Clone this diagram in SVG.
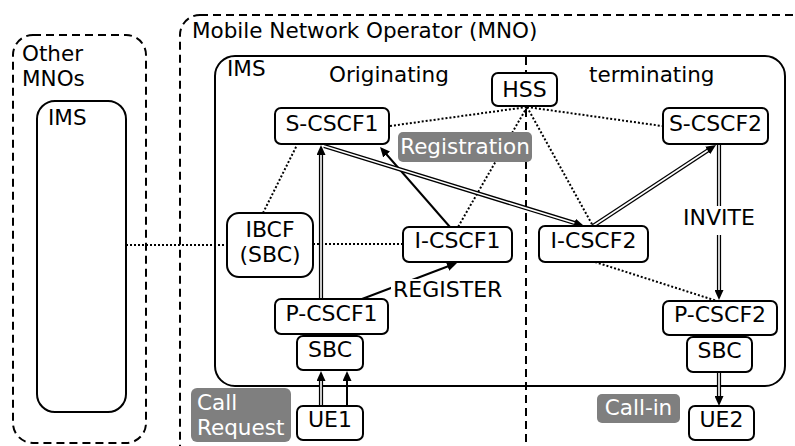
<svg xmlns="http://www.w3.org/2000/svg" width="795" height="446" viewBox="0 0 795 446">
  <style>
    text { font-family: "DejaVu Sans", Verdana, sans-serif; font-size: 21.5px; fill: #000; }
    .mid { text-anchor: middle; }
    .lbl { font-size: 22px; }
    .node { fill: #fff; stroke: #000; stroke-width: 2; }
    .zone { fill: none; stroke: #000; stroke-width: 2; }
    .dash { fill: none; stroke: #000; stroke-width: 2; stroke-dasharray: 8 5; }
    .dot { fill: none; stroke: #000; stroke-width: 2; stroke-dasharray: 2 2; }
    .arrow { fill: none; stroke: #000; stroke-width: 2; marker-end: url(#head); }
    .dbl { fill: none; stroke: #000; stroke-width: 4.2; marker-end: url(#head); }
    .dbl-in { fill: none; stroke: #fff; stroke-width: 1.6; }
    .tag { fill: #7f7f7f; }
    .tag-text { fill: #fff; }
  </style>
  <defs>
    <marker id="head" viewBox="0 0 10 9" refX="2" refY="4.5" markerWidth="10" markerHeight="9" markerUnits="userSpaceOnUse" orient="auto">
      <path d="M0,0 L10,4.5 L0,9 z" fill="#000"/>
    </marker>
  </defs>

  <rect width="795" height="446" fill="#fff"/>

  <!-- operator domains -->
  <g id="other-mnos">
    <rect class="dash" x="13" y="35" width="133" height="408" rx="20"/>
    <text x="22" y="61">Other</text>
    <text x="22" y="86">MNOs</text>
    <rect class="zone" x="37" y="101" width="89" height="311" rx="18"/>
    <text x="48" y="125">IMS</text>
  </g>
  <g id="mno">
    <rect class="dash" x="180" y="15" width="640" height="460" rx="20"/>
    <text x="192" y="38">Mobile Network Operator (MNO)</text>
  </g>
  <g id="ims">
    <rect class="zone" x="215" y="56" width="570" height="330" rx="20"/>
    <text x="227" y="76">IMS</text>
    <text x="329" y="82">Originating</text>
    <text x="589" y="82">terminating</text>
  </g>
  <line class="dash" x1="526" y1="57" x2="526" y2="446"/>

  <!-- connectors -->
  <g id="connectors">
    <!-- signalling / interface links -->
    <line class="dot" x1="126" y1="245" x2="227" y2="245"/>
    <line class="dot" x1="313" y1="244" x2="403" y2="244"/>
    <line class="dot" x1="263" y1="213" x2="297" y2="145"/>
    <line class="dot" x1="390" y1="126" x2="527" y2="107"/>
    <line class="dot" x1="527" y1="107" x2="662" y2="126"/>
    <line class="dot" x1="527" y1="107" x2="458" y2="227"/>
    <line class="dot" x1="527" y1="107" x2="593" y2="226"/>
    <line class="dot" x1="595" y1="262" x2="717" y2="301"/>

    <!-- registration path -->
    <line class="arrow" x1="347" y1="406" x2="347" y2="379"/>
    <line class="arrow" x1="362" y1="299" x2="449.5" y2="265.8"/>
    <line class="arrow" x1="450" y1="227" x2="385.3" y2="153"/>

    <!-- call path (double lines) -->
    <line class="dbl" x1="321" y1="406" x2="321" y2="379"/>
    <line class="dbl-in" x1="321" y1="406" x2="321" y2="381"/>
    <line class="dbl" x1="321" y1="299" x2="321" y2="153"/>
    <line class="dbl-in" x1="321" y1="299" x2="321" y2="155"/>
    <line class="dbl" x1="324" y1="146" x2="576.4" y2="223.6"/>
    <line class="dbl-in" x1="324" y1="146" x2="574.4" y2="223.1"/>
    <line class="dbl" x1="593" y1="226" x2="709.3" y2="149.4"/>
    <line class="dbl-in" x1="593" y1="226" x2="707.7" y2="150.5"/>
    <line class="dbl" x1="719" y1="144" x2="719" y2="292"/>
    <line class="dbl-in" x1="719" y1="144" x2="719" y2="290"/>
    <line class="dbl" x1="719" y1="372" x2="719" y2="398"/>
    <line class="dbl-in" x1="719" y1="372" x2="719" y2="396"/>

    <!-- link labels -->
    <rect x="391" y="279" width="116" height="22" fill="#fff"/>
    <text class="lbl" x="393" y="297">REGISTER</text>
    <rect x="680" y="206" width="84" height="29" fill="#fff"/>
    <text class="lbl" x="683" y="225">INVITE</text>
  </g>

  <!-- nodes -->
  <g id="hss">
    <rect class="node" x="492" y="73" width="65" height="33" rx="6"/>
    <text class="mid lbl" x="524.5" y="97">HSS</text>
  </g>
  <g id="s-cscf1">
    <rect class="node" x="275" y="108" width="114" height="36" rx="6"/>
    <text class="mid lbl" x="332" y="131">S-CSCF1</text>
  </g>
  <g id="s-cscf2">
    <rect class="node" x="663" y="108" width="105" height="36" rx="6"/>
    <text class="mid lbl" x="715.5" y="131">S-CSCF2</text>
  </g>
  <g id="registration">
    <rect class="tag" x="398" y="132" width="134" height="30" rx="5"/>
    <text class="tag-text mid" x="465" y="154">Registration</text>
  </g>
  <g id="ibcf">
    <rect class="node" x="227" y="213" width="86" height="64" rx="12"/>
    <text class="mid lbl" x="270" y="237">IBCF</text>
    <text class="mid lbl" x="270" y="262">(SBC)</text>
  </g>
  <g id="i-cscf1">
    <rect class="node" x="403" y="227" width="109" height="35" rx="6"/>
    <text class="mid lbl" x="457.5" y="248">I-CSCF1</text>
  </g>
  <g id="i-cscf2">
    <rect class="node" x="539" y="226" width="109" height="36" rx="6"/>
    <text class="mid lbl" x="593.5" y="248">I-CSCF2</text>
  </g>
  <g id="p-cscf1">
    <rect class="node" x="275" y="299" width="113" height="35" rx="6"/>
    <text class="mid lbl" x="331.5" y="321">P-CSCF1</text>
  </g>
  <g id="sbc1">
    <rect class="node" x="297" y="336" width="66" height="34" rx="6"/>
    <text class="mid lbl" x="330" y="357">SBC</text>
  </g>
  <g id="ue1">
    <rect class="node" x="297" y="406" width="66" height="34" rx="6"/>
    <text class="mid lbl" x="330" y="427">UE1</text>
  </g>
  <g id="call-request">
    <rect class="tag" x="191" y="388" width="100" height="54" rx="6"/>
    <text class="tag-text" x="197" y="410">Call</text>
    <text class="tag-text" x="197" y="435">Request</text>
  </g>
  <g id="p-cscf2">
    <rect class="node" x="663" y="301" width="114" height="34" rx="6"/>
    <text class="mid lbl" x="720" y="322">P-CSCF2</text>
  </g>
  <g id="sbc2">
    <rect class="node" x="687" y="337" width="65" height="35" rx="6"/>
    <text class="mid lbl" x="719.5" y="358">SBC</text>
  </g>
  <g id="ue2">
    <rect class="node" x="689" y="406" width="65" height="34" rx="6"/>
    <text class="mid lbl" x="721.5" y="427">UE2</text>
  </g>
  <g id="call-in">
    <rect class="tag" x="597" y="394" width="83" height="29" rx="5"/>
    <text class="tag-text mid" x="638.5" y="415">Call-in</text>
  </g>
</svg>
